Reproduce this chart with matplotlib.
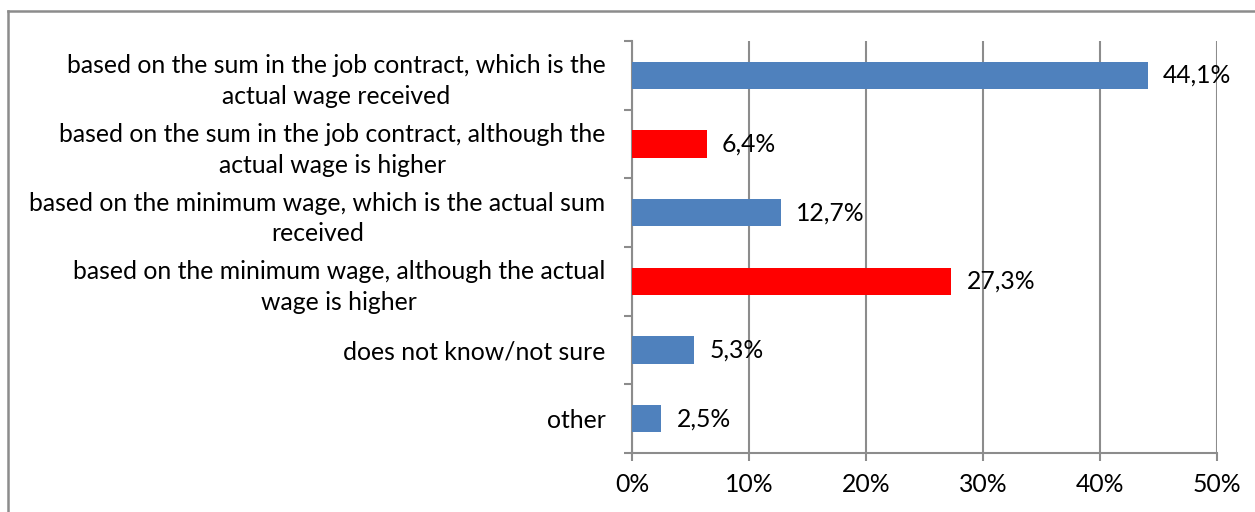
import matplotlib
matplotlib.use("Agg")
import matplotlib.pyplot as plt
from matplotlib.lines import Line2D
import numpy as np

categories = [
    "based on the sum in the job contract, which is the\nactual wage received",
    "based on the sum in the job contract, although the\nactual wage is higher",
    "based on the minimum wage, which is the actual sum\nreceived",
    "based on the minimum wage, although the actual\nwage is higher",
    "does not know/not sure",
    "other",
]
values = [44.1, 6.4, 12.7, 27.3, 5.3, 2.5]
bar_colors = ["#4F81BD", "#FF0000", "#4F81BD", "#FF0000", "#4F81BD", "#4F81BD"]
x_ticks = [0, 10, 20, 30, 40, 50]
x_ticklabels = ["0%", "10%", "20%", "30%", "40%", "50%"]

plt.rcParams["font.family"] = ["Lato", "DejaVu Sans"]
FS = 17.8
GRID = "#8C8C8C"

W, H = 1255, 512
fig = plt.figure(figsize=(W / 100, H / 100), dpi=100)
fig.patch.set_facecolor("white")

# outer chart frame
frame_kw = dict(color=GRID, lw=1.8, transform=fig.transFigure)
fig.add_artist(Line2D([7.5 / W, 7.5 / W], [0, 1 - 11 / H], **frame_kw))
fig.add_artist(Line2D([7.5 / W, 1], [1 - 11 / H, 1 - 11 / H], **frame_kw))

ax = fig.add_axes([632 / W, 1 - 453 / H, (1217 - 632) / W, (453 - 41) / H])

n = len(categories)
ypos = np.arange(n)
ax.barh(ypos, values, height=0.4, color=bar_colors, zorder=3)

for y, v in zip(ypos, values):
    ax.text(v + 1.3, y, f"{v:.1f}".replace(".", ",") + "%",
            va="center", ha="left", fontsize=FS, color="black", zorder=4)

ax.set_xlim(0, 50)
ax.set_ylim(n - 0.5, -0.5)

ax.set_xticks(x_ticks)
ax.set_xticklabels(x_ticklabels, fontsize=FS)
ax.set_yticks(ypos)
ax.set_yticklabels(categories, fontsize=FS, multialignment="center",
                   linespacing=1.4)
ax.set_yticks(np.arange(n + 1) - 0.5, minor=True)

ax.tick_params(axis="y", which="major", length=0, pad=19)
ax.tick_params(axis="y", which="minor", length=5.5, width=1.5, color=GRID)
ax.tick_params(axis="x", which="major", length=5.5, width=1.5, color=GRID, pad=9)

ax.grid(axis="x", color=GRID, lw=1.5, zorder=0)
ax.set_axisbelow(True)
for side in ("top", "right"):
    ax.spines[side].set_visible(False)
for side in ("left", "bottom"):
    ax.spines[side].set_color(GRID)
    ax.spines[side].set_linewidth(1.5)

fig.savefig("out.png", dpi=100, facecolor="white")
